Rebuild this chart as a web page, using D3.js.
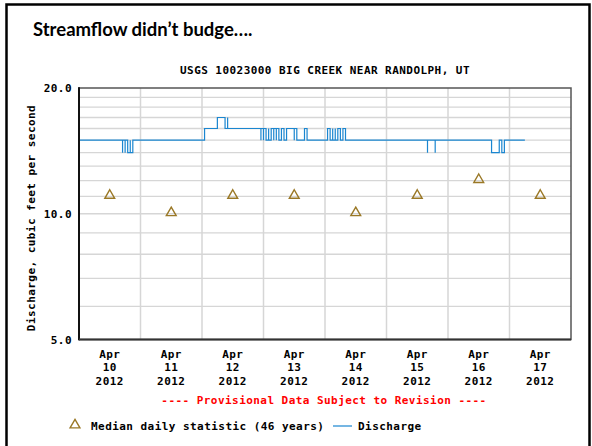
<!DOCTYPE html>
<html>
<head>
<meta charset="utf-8">
<script src="https://cdn.jsdelivr.net/npm/d3@7/dist/d3.min.js"></script>
<style>
body { margin: 0; background: #fff; }
.mono { font-family: "DejaVu Sans Mono", monospace; font-weight: bold; font-size: 11px; letter-spacing: 0.45px; }
</style>
</head>
<body>
<svg id="graph" width="592" height="446"></svg>
<script>
// chart data
var days = ["10", "11", "12", "13", "14", "15", "16", "17"];
var medians = [11, 10, 11, 11, 10, 11, 12, 11];
var yTicks = [5, 10, 20];
var yGrid = [6, 7, 8, 9, 10, 11, 12, 13, 14, 15, 16, 17, 18, 19];

// discharge as a step series: hours after Apr 10 00:00, value from that time on
var flowHours = [0, 17.25, 17.75, 18, 18.5, 19, 19.25, 19.75, 20.25, 20.5, 21, 21.25, 21.75, 22,
	49.5, 54, 54.25, 54.5, 57.75, 58, 58.25,
	71.25, 71.75, 72, 72.5, 73, 73.25, 73.75, 74.25, 74.5, 75, 75.5, 75.75, 76.25, 76.75, 77, 77.5, 78, 78.5, 78.75, 79.5, 80, 80.25, 80.75, 81.25,
	84.25, 84.5, 85, 85.25, 85.75, 88.75, 89,
	97.75, 98.5, 99.25, 99.5, 100.25, 100.75, 101.25, 102, 103.5, 104,
	136, 136.5, 139.25, 139.75,
	161.25, 164.75, 165, 165.5, 165.75, 166.25, 174.75];
var flowValues = [15, 14, 15, 14, 15, 14, 15, 14, 15, 14, 15, 14, 15, 15,
	16, 17, 16, 17, 16, 17, 16,
	15, 16, 15, 16, 15, 16, 15, 16, 15, 16, 15, 16, 15, 16, 15, 16, 15, 16, 15, 16, 15, 16, 15, 16,
	15, 16, 15, 16, 15, 16, 15,
	16, 15, 16, 15, 16, 15, 16, 15, 16, 15,
	14, 15, 14, 15,
	14, 15, 14, 15, 14, 15, 15];

var svg = d3.select("#graph");

// slide frame
svg.append("rect")
	.attr("x", 6.5).attr("y", 4.5)
	.attr("width", 583).attr("height", 470)
	.attr("fill", "none")
	.attr("stroke", "#000")
	.attr("stroke-width", 2.5);

svg.append("text")
	.attr("x", 33)
	.attr("y", 36)
	.attr("font-family", "Lato, 'Open Sans', sans-serif")
	.attr("font-weight", "bold")
	.attr("font-size", "18.5px")
	.text("Streamflow didn’t budge….");

var plotL = 79, plotR = 571, plotT = 88, plotB = 339.5;
var start = new Date(2012, 3, 10);

var x = d3.scaleTime()
	.domain([start, new Date(2012, 3, 18)])
	.range([plotL, plotR]);

var y = d3.scaleLog()
	.domain([5, 20])
	.range([plotB, plotT]);

function atHour(h) { return d3.timeHour.offset(start, h); }
function noon(i) { return d3.timeHour.offset(start, i * 24 + 12); }

svg.append("text")
	.attr("class", "mono")
	.attr("x", 325)
	.attr("y", 74)
	.attr("text-anchor", "middle")
	.text("USGS 10023000 BIG CREEK NEAR RANDOLPH, UT");

// grid
svg.append("g")
	.selectAll("line")
	.data(yGrid)
	.enter().append("line")
	.attr("x1", plotL).attr("x2", plotR)
	.attr("y1", function(d) { return y(d); })
	.attr("y2", function(d) { return y(d); })
	.attr("stroke", "#d6d6d6")
	.attr("stroke-width", 1.3);

svg.append("g")
	.selectAll("line")
	.data(d3.timeDay.range(d3.timeDay.offset(start, 1), new Date(2012, 3, 18)))
	.enter().append("line")
	.attr("x1", function(d) { return x(d); })
	.attr("x2", function(d) { return x(d); })
	.attr("y1", plotT).attr("y2", plotB)
	.attr("stroke", "#d6d6d6")
	.attr("stroke-width", 1.5);

// discharge line
var flow = flowHours.map(function(h, i) { return {t: atHour(h), v: flowValues[i]}; });

svg.append("path")
	.datum(flow)
	.attr("fill", "none")
	.attr("stroke", "#1a86d0")
	.attr("stroke-width", 1.2)
	.attr("d", d3.line()
		.curve(d3.curveStepAfter)
		.x(function(d) { return x(d.t); })
		.y(function(d) { return y(d.v); }));

// median triangles
var tri = d3.symbol().type(d3.symbolTriangle).size(42);

svg.append("g")
	.selectAll("path")
	.data(medians)
	.enter().append("path")
	.attr("d", tri)
	.attr("transform", function(d, i) { return "translate(" + x(noon(i)) + "," + (y(d) - 1) + ")"; })
	.attr("fill", "none")
	.attr("stroke", "#9a7826")
	.attr("stroke-width", 1.4);

// frame
svg.append("rect")
	.attr("x", plotL).attr("y", plotT)
	.attr("width", plotR - plotL).attr("height", plotB - plotT)
	.attr("fill", "none")
	.attr("stroke", "#555")
	.attr("stroke-width", 1.5);

svg.append("line")
	.attr("x1", plotL).attr("x2", plotL)
	.attr("y1", plotT - 0.75).attr("y2", plotB + 0.75)
	.attr("stroke", "#111").attr("stroke-width", 2);
svg.append("line")
	.attr("x1", plotL).attr("x2", plotR)
	.attr("y1", plotB).attr("y2", plotB)
	.attr("stroke", "#333").attr("stroke-width", 2);

// y axis labels
svg.append("g")
	.selectAll("text")
	.data(yTicks)
	.enter().append("text")
	.attr("class", "mono")
	.attr("x", 72)
	.attr("y", function(d) { return y(d) + 4; })
	.attr("text-anchor", "end")
	.text(function(d) { return d3.format(".1f")(d); });

svg.append("text")
	.attr("class", "mono")
	.attr("transform", "translate(35,218) rotate(-90)")
	.attr("text-anchor", "middle")
	.text("Discharge, cubic feet per second");

// x axis labels
var xl = svg.append("g")
	.selectAll("text")
	.data(days)
	.enter().append("text")
	.attr("class", "mono")
	.attr("text-anchor", "middle")
	.attr("y", 358);

xl.append("tspan")
	.attr("x", function(d, i) { return x(noon(i)); })
	.text("Apr");
xl.append("tspan")
	.attr("x", function(d, i) { return x(noon(i)); })
	.attr("dy", 13.3)
	.text(function(d) { return d; });
xl.append("tspan")
	.attr("x", function(d, i) { return x(noon(i)); })
	.attr("dy", 13.3)
	.text("2012");

svg.append("text")
	.attr("class", "mono")
	.attr("x", 324)
	.attr("y", 403.5)
	.attr("text-anchor", "middle")
	.attr("fill", "#ff0000")
	.text("---- Provisional Data Subject to Revision ----");

// legend
svg.append("path")
	.attr("d", tri)
	.attr("transform", "translate(75,425)")
	.attr("fill", "none")
	.attr("stroke", "#9a7826")
	.attr("stroke-width", 1.4);

svg.append("text")
	.attr("class", "mono")
	.attr("x", 91)
	.attr("y", 430)
	.text("Median daily statistic (46 years)");

svg.append("line")
	.attr("x1", 333).attr("x2", 352)
	.attr("y1", 426).attr("y2", 426)
	.attr("stroke", "#1a86d0")
	.attr("stroke-width", 1.2);

svg.append("text")
	.attr("class", "mono")
	.attr("x", 358)
	.attr("y", 430)
	.text("Discharge");
</script>
</body>
</html>
